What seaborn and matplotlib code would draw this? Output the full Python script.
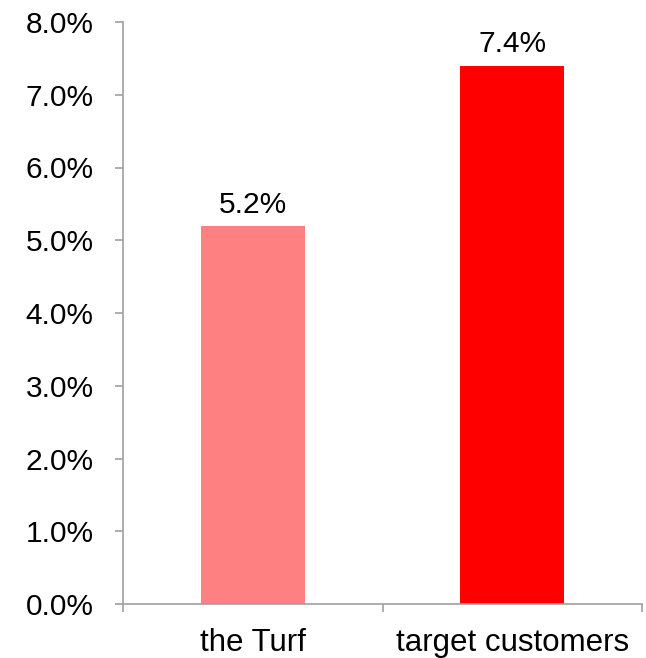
import matplotlib
matplotlib.use("Agg")
import matplotlib.pyplot as plt
import seaborn as sns
import pandas as pd
from matplotlib.ticker import FixedLocator, FuncFormatter

categories = ["the Turf", "target customers"]
values = [5.2, 7.4]
bar_colors = ["#FF8080", "#FF0000"]

sns.set_style("white")
plt.rcParams["font.family"] = ["Liberation Sans", "DejaVu Sans"]
plt.rcParams["text.color"] = "black"
plt.rcParams["xtick.color"] = "black"
plt.rcParams["ytick.color"] = "black"

FS = 21.5
FS_CAT = 22.5
AXIS_GREY = "#A0A0A0"

df = pd.DataFrame({"category": categories, "value": values})

fig = plt.figure(figsize=(6.46, 6.58), dpi=100)
ax = fig.add_axes([123 / 646, 1 - 604 / 658, 519 / 646, (604 - 22) / 658])

sns.barplot(data=df, x="category", y="value", hue="category",
            palette=bar_colors, width=0.4, legend=False, ax=ax,
            saturation=1, linewidth=0)

for patch, v in zip(ax.patches, values):
    ax.annotate(f"{v:.1f}%", (patch.get_x() + patch.get_width() / 2, v),
                xytext=(0, 9.5), textcoords="offset points",
                ha="center", va="baseline", fontsize=FS, color="black")

ax.set_xlim(-0.5, 1.5)
ax.set_ylim(0, 8)
ax.set_yticks(list(range(9)))
ax.yaxis.set_major_formatter(FuncFormatter(lambda y, _: f"{y:.1f}%"))

# category boundaries carry the tick marks, labels sit at the centres
ax.xaxis.set_major_locator(FixedLocator([-0.5, 0.5, 1.5]))
ax.xaxis.set_major_formatter(FuncFormatter(lambda x, _: ""))
ax.xaxis.set_minor_locator(FixedLocator([0, 1]))
ax.set_xticklabels(categories, minor=True)
ax.tick_params(axis="x", which="minor", length=0, labelsize=FS_CAT, pad=17,
               labelcolor="black")
ax.tick_params(axis="x", which="major", length=6, width=1.2,
               color=AXIS_GREY, direction="out", bottom=True)
ax.tick_params(axis="y", length=6, width=1.2, color=AXIS_GREY,
               direction="out", labelsize=FS, pad=15, left=True,
               labelcolor="black")

ax.set_xlabel("")
ax.set_ylabel("")
for side in ["top", "right"]:
    ax.spines[side].set_visible(False)
for side in ["left", "bottom"]:
    ax.spines[side].set_color(AXIS_GREY)
    ax.spines[side].set_linewidth(1.2)

fig.savefig("out.png", dpi=100)
